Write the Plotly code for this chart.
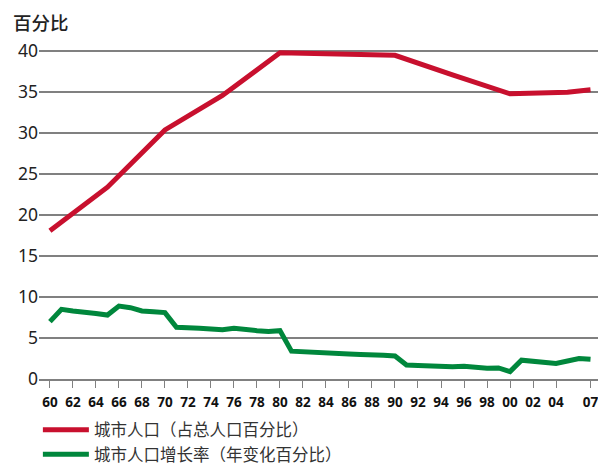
import plotly.graph_objects as go

# Urban population share of total population (%)
years_share = [1960, 1965, 1970, 1975, 1980, 1985, 1990, 1995, 2000, 2005, 2007]
urban_share = [18.1, 23.4, 30.4, 34.6, 39.8, 39.7, 39.5, 37.1, 34.8, 35.0, 35.3]

# Urban population growth rate (% annual change)
years_growth = list(range(1960, 2008))
urban_growth = [7.0, 8.5, 8.3, 8.2, 8.0, 7.8, 8.9, 8.7, 8.3, 8.2,
                8.1, 6.3, 6.3, 6.2, 6.1, 6.0, 6.2, 6.0, 5.9, 5.8,
                5.9, 3.4, 3.3, 3.3, 3.25, 3.15, 3.05, 3.0, 3.0, 2.9,
                2.8, 1.7, 1.65, 1.55, 1.6, 1.5, 1.55, 1.4, 1.3, 1.35,
                0.9, 2.3, 2.2, 2.05, 1.9, 2.2, 2.5, 2.4]

tick_years = list(range(1960, 2005, 2)) + [2007]
tick_text = [f"{y % 100:02d}" for y in tick_years]
y_ticks = [0, 5, 10, 15, 20, 25, 30, 35, 40]

name_share = "城市人口（占总人口百分比）"
name_growth = "城市人口增长率（年变化百分比）"
y_title = "百分比"

FONT = "Noto Sans, Noto Sans CJK SC, sans-serif"

fig = go.Figure()
fig.add_trace(go.Scatter(x=years_share, y=urban_share, mode="lines", name=name_share,
                         line=dict(color="#C8102E", width=5)))
fig.add_trace(go.Scatter(x=years_growth, y=urban_growth, mode="lines", name=name_growth,
                         line=dict(color="#00873C", width=5)))

fig.update_layout(
    width=598, height=466,
    margin=dict(l=39, r=0, t=43, b=87, autoexpand=False),
    paper_bgcolor="white", plot_bgcolor="white",
    font=dict(family=FONT, color="#222"),
    showlegend=True,
    legend=dict(x=-0.002, xanchor="left", y=-0.1, yanchor="top",
                font=dict(size=16.5, color="#333"), itemwidth=46,
                tracegroupgap=0, bgcolor="rgba(0,0,0,0)"),
    xaxis=dict(range=[1959.05, 2007.65], tickvals=tick_years, ticktext=tick_text,
               tickfont=dict(size=13.5, weight="bold", color="#111"), automargin=False,
               ticklabelstandoff=3, ticklabeloverflow="allow",
               showgrid=False, zeroline=False, showline=True, linecolor="#808080", linewidth=1.5,
               ticks="outside", ticklen=7, tickcolor="#808080", tickwidth=1.2),
    yaxis=dict(range=[0, 41], tickvals=y_ticks, tickfont=dict(size=17.5, color="#222"),
               automargin=False,
               showgrid=True, gridcolor="#808080", gridwidth=1.5, zeroline=False,
               showline=False, ticks=""),
    annotations=[dict(text=y_title, xref="paper", yref="paper", x=-0.05, y=1.0625,
                      xanchor="left", yanchor="middle", showarrow=False,
                      font=dict(size=18.5, color="#222", weight=500))],
)

fig.write_html("out.html", config={"displayModeBar": False},
               post_script="document.body.style.margin='0';")
